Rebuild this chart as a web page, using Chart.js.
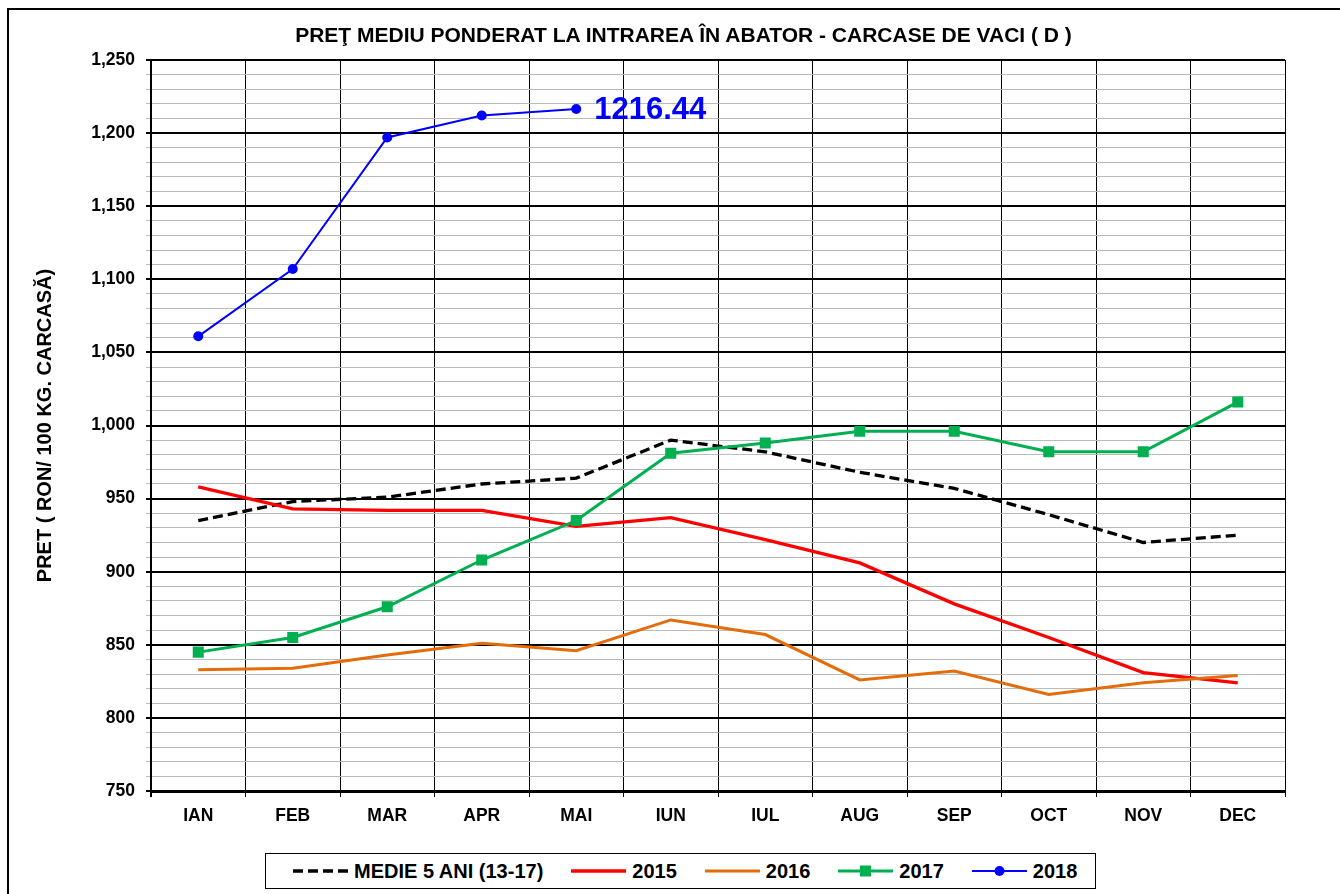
<!DOCTYPE html>
<html><head><meta charset="utf-8">
<script src="https://cdn.jsdelivr.net/npm/chart.js@4.4.1/dist/chart.umd.min.js"></script>
<style>
html,body{margin:0;padding:0;background:#fff;overflow:hidden;width:1340px;height:894px;}
#frame{position:absolute;left:7px;top:8px;width:1360px;height:920px;border:2px solid #000;box-sizing:border-box;}
canvas{position:absolute;left:0;top:0;}
#title{position:absolute;left:0;width:1367px;top:23px;line-height:25px;text-align:center;font:bold 21px "Liberation Sans",Arial,sans-serif;white-space:nowrap;color:#000;}
#legend{position:absolute;left:265px;top:853px;width:831px;height:36px;border:1px solid #000;box-sizing:border-box;display:flex;align-items:center;padding-left:27px;font:bold 20px "Liberation Sans",Arial,sans-serif;color:#000;background:#fff;}
.item{display:flex;align-items:center;margin-right:28px;white-space:nowrap;}
.item svg{margin-right:6px;display:block;}
</style></head>
<body>
<div id="frame"></div>
<canvas id="c" width="1340" height="894"></canvas>
<div id="title">PREŢ MEDIU PONDERAT LA INTRAREA ÎN ABATOR - CARCASE DE VACI ( D )</div>
<div id="legend"></div>
<script>
// ---- data ----
const months = ['IAN','FEB','MAR','APR','MAI','IUN','IUL','AUG','SEP','OCT','NOV','DEC'];
const medie5ani = [935, 948, 951, 960, 964, 990, 982, 968, 957, 939, 920, 925];
const y2015 = [958, 943, 942, 942, 931, 937, 922, 906, 878, 855, 831, 824];
const y2016 = [833, 834, 843, 851, 846, 867, 857, 826, 832, 816, 824, 829];
const y2017 = [845, 855, 876, 908, 935, 981, 988, 996, 996, 982, 982, 1016];
const y2018 = [1061, 1107, 1197, 1212, 1216.44, null, null, null, null, null, null, null];
const seriesNames = ['MEDIE 5 ANI (13-17)', '2015', '2016', '2017', '2018'];
const yMin = 750, yMax = 1250, yStep = 10, yMajor = 50;

const FONT = '"Liberation Sans", Arial, sans-serif';

const datasets = [
  {label: seriesNames[0], data: medie5ani, borderColor:'#000000', backgroundColor:'#000000', borderWidth:3.3, borderDash:[10,5], pointRadius:0, order:5},
  {label: seriesNames[1], data: y2015, borderColor:'#FF0000', backgroundColor:'#FF0000', borderWidth:3.3, pointRadius:0, order:4},
  {label: seriesNames[2], data: y2016, borderColor:'#E46C0A', backgroundColor:'#E46C0A', borderWidth:3, pointRadius:0, order:3},
  {label: seriesNames[3], data: y2017, borderColor:'#00B050', backgroundColor:'#00B050', borderWidth:3, pointStyle:'rect', pointRadius:7.8, pointBorderWidth:0, pointBackgroundColor:'#00B050', order:2},
  {label: seriesNames[4], data: y2018, borderColor:'#0000FF', backgroundColor:'#0000FF', borderWidth:2, pointStyle:'circle', pointRadius:5, pointBorderWidth:0, pointBackgroundColor:'#0000FF', order:1}
];
datasets.forEach(d => { d.tension = 0; d.fill = false; d.spanGaps = false; });

const lastLabel = {
  id: 'lastLabel',
  afterDatasetsDraw(chart) {
    const di = chart.data.datasets.findIndex(d => d.label === '2018');
    const meta = chart.getDatasetMeta(di);
    const arr = chart.data.datasets[di].data;
    let idx = -1;
    arr.forEach((v, i) => { if (v !== null && v !== undefined) idx = i; });
    if (idx < 0) return;
    const pt = meta.data[idx];
    const ctx = chart.ctx;
    ctx.save();
    ctx.font = 'bold 31px ' + FONT;
    ctx.fillStyle = '#0000FF';
    ctx.textBaseline = 'alphabetic';
    ctx.textAlign = 'left';
    ctx.fillText(arr[idx].toFixed(2), pt.x + 18, pt.y + 10);
    ctx.restore();
  }
};

const chart = new Chart(document.getElementById('c'), {
  type: 'line',
  data: { labels: months, datasets: datasets },
  options: {
    responsive: false,
    animation: false,
    devicePixelRatio: 1,
    layout: { padding: { left: 0, right: 55, top: 60, bottom: 0 } },
    plugins: { legend: { display: false }, title: { display: false }, tooltip: { enabled: false } },
    scales: {
      x: {
        offset: true,
        grid: {
          offset: true,
          color: '#000',
          lineWidth: c => (c.index === 0 || c.index === months.length) ? 2 : 1,
          tickLength: 6
        },
        border: { color: '#000', width: 3 },
        ticks: { font: { family: FONT, size: 17.5, weight: 'bold' }, color: '#000', padding: 8.5, maxRotation: 0, autoSkip: false },
        afterFit: s => { s.height = 103; }
      },
      y: {
        min: yMin, max: yMax,
        ticks: {
          stepSize: yStep, maxTicksLimit: 100, autoSkip: false,
          callback: v => (v % yMajor === 0) ? v.toLocaleString('en-US') : '',
          font: { family: FONT, size: 17.5, weight: 'bold' }, color: '#000', padding: 11
        },
        grid: {
          color: c => (c.tick && c.tick.value % yMajor === 0) ? '#000' : '#BBBBBB',
          lineWidth: c => (c.tick && c.tick.value % yMajor === 0) ? 2 : 1,
          tickLength: 5
        },
        border: { color: '#000', width: 2 },
        title: { display: true, text: 'PRET ( RON/ 100 KG. CARCASĂ)', font: { family: FONT, size: 20, weight: 'bold' }, color: '#000', padding: { top: 33, bottom: 0 } },
        afterFit: s => { s.width = 151; }
      }
    }
  },
  plugins: [lastLabel]
});

// HTML legend built from the datasets
const legend = document.getElementById('legend');
chart.data.datasets.forEach(d => {
  const item = document.createElement('div');
  item.className = 'item';
  const w = 55, h = 14, cy = 7;
  let svg = `<svg width="${w}" height="${h}" viewBox="0 0 ${w} ${h}">`;
  const dash = d.borderDash ? `stroke-dasharray="${d.borderDash.join(',')}"` : '';
  svg += `<line x1="0" y1="${cy}" x2="${w}" y2="${cy}" stroke="${d.borderColor}" stroke-width="${d.borderWidth}" ${dash}/>`;
  if (d.pointRadius && d.pointStyle === 'rect') {
    const s = 11;
    svg += `<rect x="${w/2 - s/2}" y="${cy - s/2}" width="${s}" height="${s}" fill="${d.pointBackgroundColor}"/>`;
  } else if (d.pointRadius && d.pointStyle === 'circle') {
    svg += `<circle cx="${w/2}" cy="${cy}" r="${d.pointRadius}" fill="${d.pointBackgroundColor}"/>`;
  }
  svg += '</svg>';
  item.innerHTML = svg + '<span>' + d.label + '</span>';
  legend.appendChild(item);
});
</script>
</body></html>
